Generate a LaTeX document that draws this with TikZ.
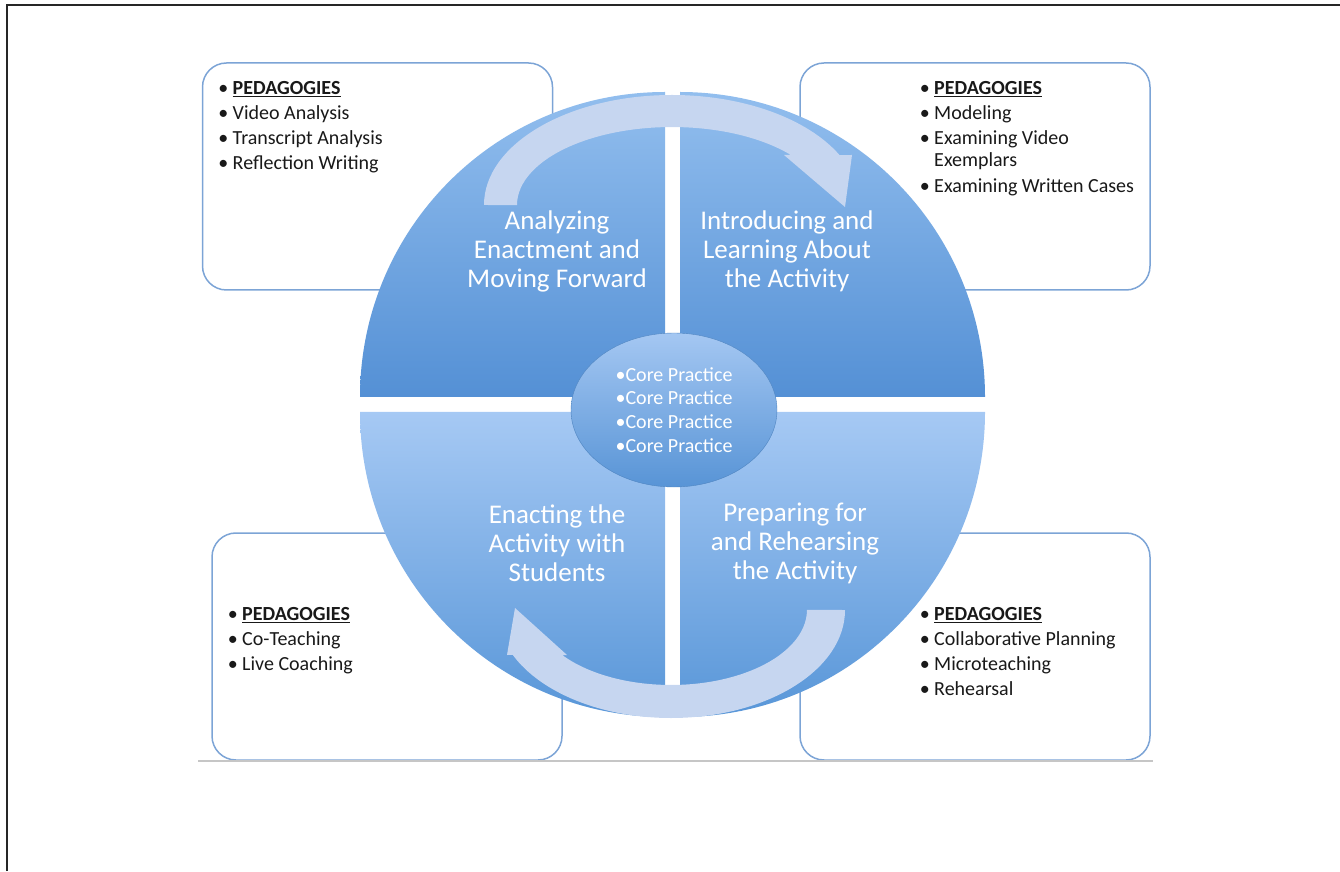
\documentclass[tikz,border=0pt]{standalone}
\usepackage{fontspec}
\setmainfont{Carlito}
\usetikzlibrary{shapes.geometric}

\definecolor{boxline}{RGB}{124,164,214}
\definecolor{qtop}{RGB}{146,190,238}
\definecolor{qbot}{RGB}{84,144,213}
\definecolor{btop}{RGB}{166,201,244}
\definecolor{bbot}{RGB}{88,150,216}
\definecolor{ctop}{RGB}{164,199,242}
\definecolor{cbot}{RGB}{88,148,214}
\definecolor{arrowc}{RGB}{198,214,240}
\definecolor{inktext}{RGB}{25,25,25}

\tikzset{
  pedbox/.style={draw=boxline, line width=1.5pt, rounded corners=24pt, fill=white,
    minimum width=350pt, minimum height=227pt, inner sep=0pt},
  pedtext/.style={anchor=north west, align=left, inner sep=0pt, text=inktext,
    font=\fontsize{20}{25}\selectfont},
  quadtext/.style={text=white, align=center, inner sep=0pt,
    font=\fontsize{27}{29}\selectfont}
}

\begin{document}
\begin{tikzpicture}[x=1pt,y=1pt,line width=1pt]
      \pgfmathsetmacro{\r}{305}
      \useasboundingbox (0,0) rectangle (1340,871);
      \draw[line width=1.5pt,black!85] (7,0) -- (7,866) -- (1340,866);

      \node[pedbox] (B1) at (377.5,694.5) {};
      \node[pedbox] (B2) at (975,694.5) {};
      \node[pedbox] (B3) at (387,224.5) {};
      \node[pedbox] (B4) at (975,224.5) {};
      \draw[gray!45,line width=1.2pt] (198,110) -- (1153,110);

      \shade[top color=qtop,bottom color=qbot] (665,474) -- ++(-\r,0) arc[start angle=180,end angle=90,radius=\r] -- cycle;
      \shade[top color=qtop,bottom color=qbot] (680,474) -- ++(0,\r) arc[start angle=90,end angle=0,radius=\r] -- cycle;
      \shade[top color=btop,bottom color=bbot] (665,459) -- ++(0,-\r) arc[start angle=270,end angle=180,radius=\r] -- cycle;
      \shade[top color=btop,bottom color=bbot] (680,459) -- ++(\r,0) arc[start angle=0,end angle=-90,radius=\r] -- cycle;

      \fill[arrowc] (484,666) arc[start angle=180,end angle=27,x radius=188,y radius=110]
        -- (852,716) -- (845,664) -- (784,716) -- (790.9,716)
        arc[start angle=39.9,end angle=180,x radius=155,y radius=78] -- cycle;
      \fill[arrowc] (845,261) arc[start angle=0,end angle=-155.4,x radius=174,y radius=108]
        -- (507,216) -- (515,263) -- (567,216) -- (562.2,216)
        arc[start angle=-143.1,end angle=0,x radius=136,y radius=75] -- cycle;

      \node[ellipse,draw=cbot!90!black,line width=.4pt,top color=ctop,bottom color=cbot,
        minimum width=206pt,minimum height=154pt,inner sep=0pt,text=white,align=left,
        font=\fontsize{20}{23.7}\selectfont] (C) at (674,461)
        {•Core Practice\\•Core Practice\\•Core Practice\\•Core Practice};

      \node[quadtext] (Q1) at (557,620) {Analyzing\\Enactment and\\Moving Forward};
      \node[quadtext] (Q2) at (787,620) {Introducing and\\Learning About\\the Activity};
      \node[quadtext] (Q3) at (557,328) {Enacting the\\Activity with\\Students};
      \node[quadtext] (Q4) at (795,328) {Preparing for\\and Rehearsing\\the Activity};

      \node[pedtext] (T1) at ([xshift=16pt,yshift=-19pt]B1.north west)
        {• \underline{\textbf{PEDAGOGIES}}\\• Video Analysis\\• Transcript Analysis\\• Reflection Writing};
      \node[pedtext] (T2) at ([xshift=120pt,yshift=-19pt]B2.north west)
        {• \underline{\textbf{PEDAGOGIES}}\\• Modeling\\• Examining Video\\[-3pt]\hphantom{• }Exemplars\\[1pt]• Examining Written Cases};
      \node[pedtext] (T3) at ([xshift=16pt,yshift=-75pt]B3.north west)
        {• \underline{\textbf{PEDAGOGIES}}\\• Co-Teaching\\• Live Coaching};
      \node[pedtext] (T4) at ([xshift=120pt,yshift=-75pt]B4.north west)
        {• \underline{\textbf{PEDAGOGIES}}\\• Collaborative Planning\\• Microteaching\\• Rehearsal};
    \end{tikzpicture}
\end{document}
